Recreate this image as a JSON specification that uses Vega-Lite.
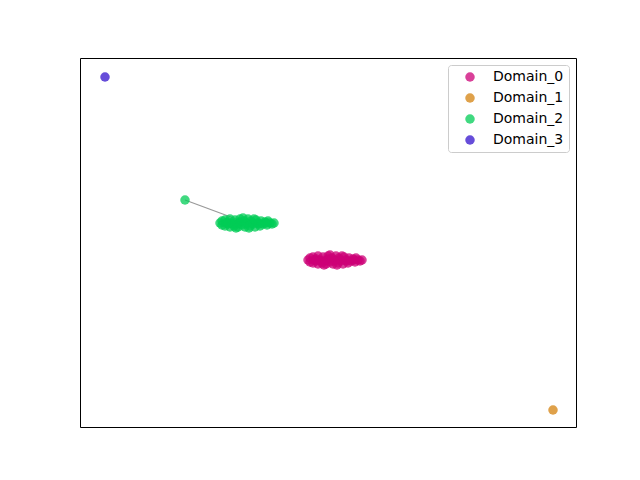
{
  "$schema": "https://vega.github.io/schema/vega-lite/v6.json",
  "width": 496,
  "height": 369,
  "autosize": {"type": "none"},
  "padding": {"left": 80, "top": 58, "right": 64, "bottom": 53},
  "config": {
    "view": {"stroke": "black", "strokeWidth": 1},
    "font": "DejaVu Sans"
  },
  "datasets": {
    "pts": [
      {"x": 228, "y": 167, "domain": "Domain_0"}, {"x": 230, "y": 165, "domain": "Domain_0"}, {"x": 230, "y": 169, "domain": "Domain_0"},
      {"x": 233, "y": 164, "domain": "Domain_0"}, {"x": 233, "y": 170, "domain": "Domain_0"}, {"x": 236, "y": 166, "domain": "Domain_0"},
      {"x": 236, "y": 168, "domain": "Domain_0"}, {"x": 238, "y": 163, "domain": "Domain_0"}, {"x": 238, "y": 171, "domain": "Domain_0"},
      {"x": 240, "y": 167, "domain": "Domain_0"}, {"x": 242, "y": 164, "domain": "Domain_0"}, {"x": 243, "y": 170, "domain": "Domain_0"},
      {"x": 245, "y": 166, "domain": "Domain_0"}, {"x": 246, "y": 163, "domain": "Domain_0"}, {"x": 248, "y": 168, "domain": "Domain_0"},
      {"x": 248, "y": 171, "domain": "Domain_0"}, {"x": 250, "y": 165, "domain": "Domain_0"}, {"x": 252, "y": 169, "domain": "Domain_0"},
      {"x": 253, "y": 163, "domain": "Domain_0"}, {"x": 255, "y": 167, "domain": "Domain_0"}, {"x": 256, "y": 171, "domain": "Domain_0"},
      {"x": 258, "y": 164, "domain": "Domain_0"}, {"x": 259, "y": 169, "domain": "Domain_0"}, {"x": 261, "y": 166, "domain": "Domain_0"},
      {"x": 263, "y": 163, "domain": "Domain_0"}, {"x": 264, "y": 170, "domain": "Domain_0"}, {"x": 266, "y": 167, "domain": "Domain_0"},
      {"x": 268, "y": 164, "domain": "Domain_0"}, {"x": 269, "y": 169, "domain": "Domain_0"}, {"x": 271, "y": 166, "domain": "Domain_0"},
      {"x": 273, "y": 168, "domain": "Domain_0"}, {"x": 275, "y": 165, "domain": "Domain_0"}, {"x": 276, "y": 169, "domain": "Domain_0"},
      {"x": 278, "y": 167, "domain": "Domain_0"}, {"x": 280, "y": 166, "domain": "Domain_0"}, {"x": 282, "y": 167, "domain": "Domain_0"},
      {"x": 234, "y": 167, "domain": "Domain_0"}, {"x": 241, "y": 166, "domain": "Domain_0"}, {"x": 247, "y": 167, "domain": "Domain_0"},
      {"x": 254, "y": 166, "domain": "Domain_0"}, {"x": 260, "y": 167, "domain": "Domain_0"}, {"x": 267, "y": 166, "domain": "Domain_0"},
      {"x": 274, "y": 167, "domain": "Domain_0"}, {"x": 244, "y": 162, "domain": "Domain_0"}, {"x": 257, "y": 162, "domain": "Domain_0"},
      {"x": 250, "y": 172, "domain": "Domain_0"}, {"x": 262, "y": 171, "domain": "Domain_0"},
      {"x": 473, "y": 17, "domain": "Domain_1"},
      {"x": 105, "y": 227, "domain": "Domain_2"},
      {"x": 140, "y": 204, "domain": "Domain_2"}, {"x": 142, "y": 202, "domain": "Domain_2"}, {"x": 142, "y": 206, "domain": "Domain_2"},
      {"x": 145, "y": 201, "domain": "Domain_2"}, {"x": 145, "y": 207, "domain": "Domain_2"}, {"x": 148, "y": 203, "domain": "Domain_2"},
      {"x": 148, "y": 205, "domain": "Domain_2"}, {"x": 150, "y": 200, "domain": "Domain_2"}, {"x": 150, "y": 208, "domain": "Domain_2"},
      {"x": 152, "y": 204, "domain": "Domain_2"}, {"x": 154, "y": 201, "domain": "Domain_2"}, {"x": 155, "y": 207, "domain": "Domain_2"},
      {"x": 157, "y": 203, "domain": "Domain_2"}, {"x": 158, "y": 200, "domain": "Domain_2"}, {"x": 160, "y": 205, "domain": "Domain_2"},
      {"x": 160, "y": 208, "domain": "Domain_2"}, {"x": 162, "y": 202, "domain": "Domain_2"}, {"x": 164, "y": 206, "domain": "Domain_2"},
      {"x": 165, "y": 200, "domain": "Domain_2"}, {"x": 167, "y": 204, "domain": "Domain_2"}, {"x": 168, "y": 208, "domain": "Domain_2"},
      {"x": 170, "y": 201, "domain": "Domain_2"}, {"x": 171, "y": 206, "domain": "Domain_2"}, {"x": 173, "y": 203, "domain": "Domain_2"},
      {"x": 175, "y": 200, "domain": "Domain_2"}, {"x": 176, "y": 207, "domain": "Domain_2"}, {"x": 178, "y": 204, "domain": "Domain_2"},
      {"x": 180, "y": 201, "domain": "Domain_2"}, {"x": 181, "y": 206, "domain": "Domain_2"}, {"x": 183, "y": 203, "domain": "Domain_2"},
      {"x": 185, "y": 205, "domain": "Domain_2"}, {"x": 187, "y": 202, "domain": "Domain_2"}, {"x": 188, "y": 206, "domain": "Domain_2"},
      {"x": 190, "y": 204, "domain": "Domain_2"}, {"x": 192, "y": 203, "domain": "Domain_2"}, {"x": 194, "y": 204, "domain": "Domain_2"},
      {"x": 146, "y": 204, "domain": "Domain_2"}, {"x": 153, "y": 203, "domain": "Domain_2"}, {"x": 159, "y": 204, "domain": "Domain_2"},
      {"x": 166, "y": 203, "domain": "Domain_2"}, {"x": 172, "y": 204, "domain": "Domain_2"}, {"x": 179, "y": 203, "domain": "Domain_2"},
      {"x": 186, "y": 204, "domain": "Domain_2"}, {"x": 156, "y": 199, "domain": "Domain_2"}, {"x": 163, "y": 209, "domain": "Domain_2"},
      {"x": 169, "y": 199, "domain": "Domain_2"}, {"x": 174, "y": 208, "domain": "Domain_2"},
      {"x": 25, "y": 350, "domain": "Domain_3"}
    ],
    "link": [
      {"x": 105, "y": 227},
      {"x": 167, "y": 204}
    ]
  },
  "layer": [
    {
      "data": {"name": "link"},
      "mark": {"type": "line", "color": "#999999", "strokeWidth": 1.2},
      "encoding": {
        "x": {"field": "x", "type": "quantitative", "scale": {"domain": [0, 496]}, "axis": null},
        "y": {"field": "y", "type": "quantitative", "scale": {"domain": [0, 369]}, "axis": null}
      }
    },
    {
      "data": {"name": "pts"},
      "mark": {"type": "point", "filled": true, "shape": "circle", "size": 90, "opacity": 0.75, "strokeWidth": 0},
      "encoding": {
        "x": {"field": "x", "type": "quantitative", "scale": {"domain": [0, 496]}, "axis": null},
        "y": {"field": "y", "type": "quantitative", "scale": {"domain": [0, 369]}, "axis": null},
        "color": {
          "field": "domain",
          "type": "nominal",
          "scale": {
            "domain": ["Domain_0", "Domain_1", "Domain_2", "Domain_3"],
            "range": ["#cc0077", "#d4820e", "#00cc55", "#3311cc"]
          },
          "legend": {
            "title": null,
            "orient": "top-right",
            "offset": 7,
            "padding": 5,
            "strokeColor": "#cccccc",
            "fillColor": "white",
            "cornerRadius": 3,
            "labelFontSize": 14,
            "labelColor": "black",
            "labelFont": "DejaVu Sans",
            "labelOffset": 16,
            "symbolSize": 90,
            "symbolOffset": 10,
            "symbolOpacity": 0.75,
            "rowPadding": 7
          }
        }
      }
    }
  ]
}
